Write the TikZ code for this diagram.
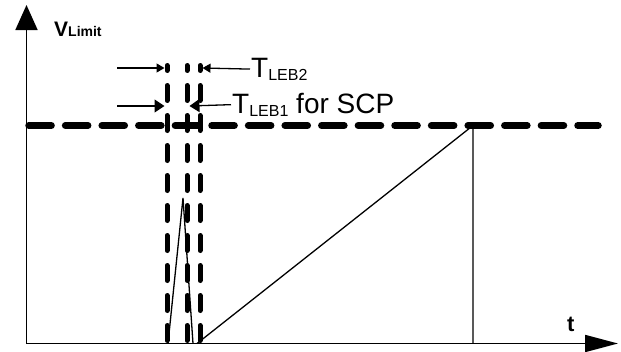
\documentclass[tikz,border=0pt]{standalone}
\usepackage{fontspec}
\setmainfont{Liberation Sans}
\usetikzlibrary{arrows.meta}

\begin{document}
\begin{tikzpicture}[x=1pt, y=-1pt,
    every node/.style={inner sep=0pt, anchor=base west},
    axis/.style={line width=1.8pt},
    limit/.style={line width=7pt, line cap=round, dash pattern=on 22.6pt off 14pt},
    blank/.style={line width=5pt, line cap=round, dash pattern=on 15pt off 15pt, dash phase=10pt},
    trace/.style={line width=1.3pt},
    span/.style={line width=1.3pt}]
  \useasboundingbox (0,0) rectangle (621,351);
  \coordinate (o) at (26.5,343.5);
  \coordinate (ytop) at (26.5,5);
  \coordinate (xend) at (618,343.5);
  \draw[axis, -{Triangle[length=25pt, width=22pt]}] (o) -- (ytop);
  \draw[axis, -{Triangle[length=33pt, width=17pt]}] (o) -- (xend);
  \coordinate (lim0) at (28.75,125.5);
  \coordinate (lim1) at (598.25,125.5);
  \draw[limit] (lim0) -- (lim1);
  \foreach \x in {167,187,200}
    \draw[blank] (\x,65.5) -- (\x,345);
  \draw[trace] (168,343.5) -- (183,198) -- (193,343.5);
  \draw[trace] (197,343.5) -- (473,125.5) -- (473,343.5);
  \node (vlimit) at (54,36) {\bfseries\fontsize{21}{21}\selectfont V\fontsize{14}{14}\selectfont Limit};
  \node (tlabel) at (567,331) {\bfseries\fontsize{22}{22}\selectfont t};
  \node (leb2) at (251,77) {\fontsize{28}{28}\selectfont T\raisebox{-3.5pt}{\fontsize{16}{16}\selectfont LEB2}};
  \node (leb1) at (232,113) {\fontsize{28}{28}\selectfont T\raisebox{-3.5pt}{\fontsize{16}{16}\selectfont LEB1} for SCP};
  \coordinate (a2) at (117,68);
  \coordinate (a2l) at (164.5,68);
  \coordinate (a2r) at (202.5,68);
  \coordinate (a1) at (117,106);
  \coordinate (a1l) at (164.5,106);
  \coordinate (a1r) at (189.5,106);
  \draw[span, -{Triangle[length=8pt, width=9pt]}] (a2) -- (a2l);
  \draw[span, -{Triangle[length=8pt, width=9pt]}, shorten <=1pt] (leb2.west) -- (a2r);
  \draw[span, -{Triangle[length=10pt, width=13pt]}] (a1) -- (a1l);
  \draw[span, -{Triangle[length=10pt, width=13pt]}, shorten <=1pt] (leb1.west) -- (a1r);
\end{tikzpicture}
\end{document}
